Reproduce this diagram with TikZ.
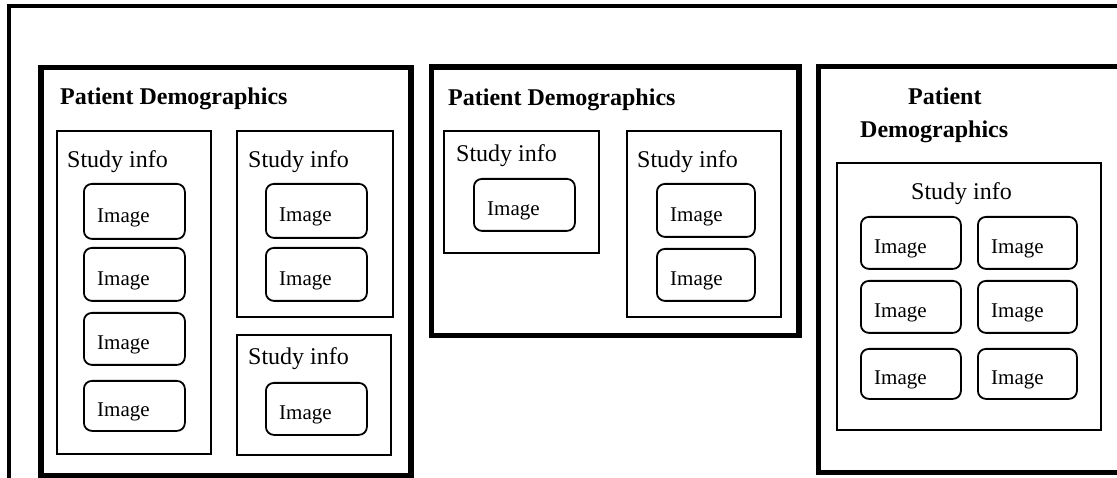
\documentclass[tikz,border=0pt]{standalone}
\usepackage{fontspec}
\setmainfont{Liberation Serif}
\usetikzlibrary{calc}
\tikzset{
  outerline/.style={line width=4pt},
  demobox/.style={draw, line width=5.5pt, inner sep=0pt, anchor=north west},
  studybox/.style={draw, line width=1.8pt, inner sep=0pt, anchor=north west},
  imgb/.style={draw, line width=1.8pt, rounded corners=8pt, inner sep=0pt, anchor=north west},
  imgt/.style={inner sep=0pt, anchor=base west, font=\fontsize{21}{24}\selectfont},
  studyt/.style={inner sep=0pt, anchor=base west, font=\fontsize{24}{28}\selectfont},
  titlet/.style={inner sep=0pt, anchor=base west, font=\fontsize{24}{28}\selectfont\bfseries},
}
\newcommand\demo[5]{\node[demobox, minimum width=#4pt-#2pt, minimum height=#5pt-#3pt] (#1) at (#2,#3) {};}
\newcommand\study[5]{\node[studybox, minimum width=#4pt-#2pt, minimum height=#5pt-#3pt] (#1) at (#2,#3) {};}
\newcommand\imgnode[5]{\node[imgb, minimum width=#4pt-#2pt, minimum height=#5pt-#3pt] (#1) at (#2,#3) {};
  \node[imgt] (#1t) at ($(#1.west)+(14,11)$) {Image};}
\begin{document}
\begin{tikzpicture}[x=1pt,y=-1pt]
\useasboundingbox (0,0) rectangle (1117,478);
\clip (0,0) rectangle (1117,478);
% outer frame
\coordinate (ob) at (9,500);
\coordinate (otl) at (9,6);
\coordinate (otr) at (1140,6);
\draw[outerline] (ob) -- (otl) -- (otr);

% ---- block 1
\demo{d1}{38}{65}{408}{473}
\node[titlet] (t1) at (60,105) {Patient Demographics};
\study{s1a}{56}{130}{210}{453}
\node[studyt] (s1at) at (67,168) {Study info};
\imgnode{i1a1}{83}{183}{184}{238}
\imgnode{i1a2}{83}{247}{184}{300}
\imgnode{i1a3}{83}{312}{184}{364}
\imgnode{i1a4}{83}{380}{184}{430}
\study{s1b}{236}{130}{392}{316}
\node[studyt] (s1bt) at (248,168) {Study info};
\imgnode{i1b1}{265}{183}{366}{237}
\imgnode{i1b2}{265}{247}{366}{300}
\study{s1c}{236}{334}{390}{454}
\node[studyt] (s1ct) at (248,365) {Study info};
\imgnode{i1c1}{265}{382}{366}{434}

% ---- block 2
\demo{d2}{428.5}{64.5}{796}{333}
\node[titlet] (t2) at (448,106) {Patient Demographics};
\study{s2a}{443}{130}{598}{252}
\node[studyt] (s2at) at (456,162) {Study info};
\imgnode{i2a1}{473}{178}{574}{230}
\study{s2b}{626}{130}{780}{316}
\node[studyt] (s2bt) at (637,168) {Study info};
\imgnode{i2b1}{656}{183}{754}{236}
\imgnode{i2b2}{656}{248}{754}{300}

% ---- block 3
\demo{d3}{815.5}{64}{1130}{469.5}
\node[titlet] (t3a) at (908,105) {Patient};
\node[titlet] (t3b) at (860,138) {Demographics};
\study{s3}{836}{162}{1100}{429}
\node[studyt] (s3t) at (911,200) {Study info};
\imgnode{i3a}{860}{216}{960}{268}
\imgnode{i3b}{977}{216}{1076}{268}
\imgnode{i3c}{860}{280}{960}{332}
\imgnode{i3d}{977}{280}{1076}{332}
\imgnode{i3e}{860}{348}{960}{398}
\imgnode{i3f}{977}{348}{1076}{398}
\end{tikzpicture}
\end{document}
